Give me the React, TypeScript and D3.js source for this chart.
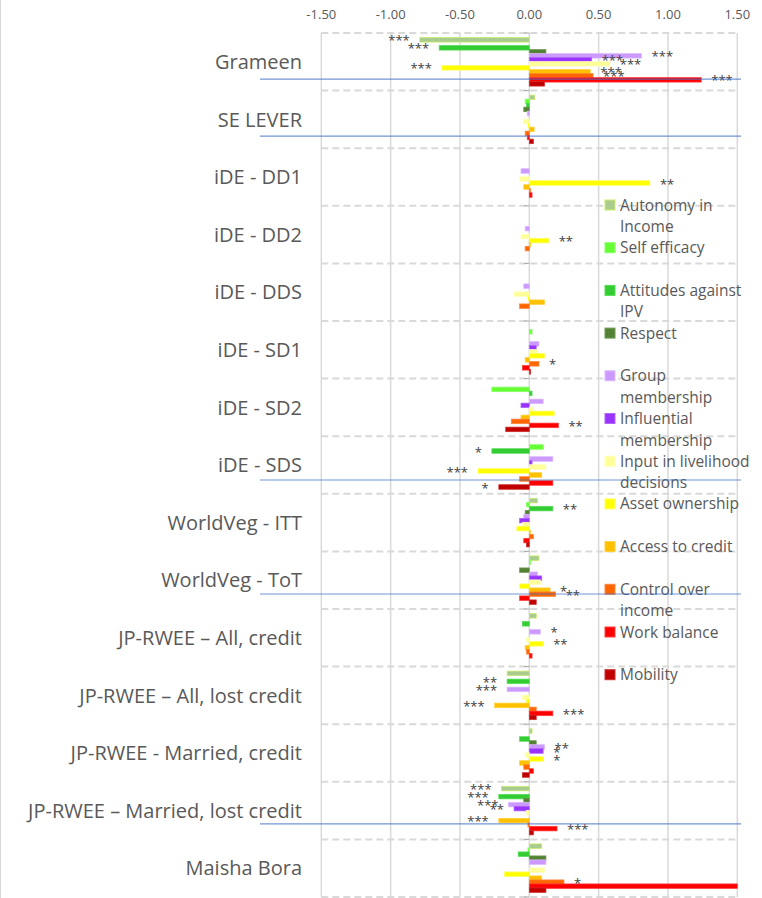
import React from "react";
import * as d3 from "d3";

const categories = [
  "Grameen",
  "SE LEVER",
  "iDE - DD1",
  "iDE - DD2",
  "iDE - DDS",
  "iDE - SD1",
  "iDE - SD2",
  "iDE - SDS",
  "WorldVeg - ITT",
  "WorldVeg - ToT",
  "JP-RWEE \u2013 All, credit",
  "JP-RWEE \u2013 All, lost credit",
  "JP-RWEE - Married, credit",
  "JP-RWEE \u2013 Married, lost credit",
  "Maisha Bora",
];

const seriesNames = [
  "Autonomy in Income",
  "Self efficacy",
  "Attitudes against IPV",
  "Respect",
  "Group membership",
  "Influential membership",
  "Input in livelihood decisions",
  "Asset ownership",
  "Access to credit",
  "Control over income",
  "Work balance",
  "Mobility",
];

const seriesColors = ["#A9CC8E", "#66FF33", "#33CC33", "#548235", "#CC99FF", "#9933FF", "#FFFF99", "#FFFF00", "#FFC000", "#FF6600", "#FF0000", "#C00000"];
const seriesStrokes = ["#CCEE66", "#88FF66", "#55DD55", "#6F9A50", "#DDBBFF", "#B066FF", "#FFFFBB", "#FFFF66", "#FFD040", "#FF8840", "#FF4040", "#D03030"];

const legendLines = [
  ["Autonomy in", "Income"],
  ["Self efficacy"],
  ["Attitudes against", "IPV"],
  ["Respect"],
  ["Group", "membership"],
  ["Influential", "membership"],
  ["Input in livelihood", "decisions"],
  ["Asset ownership"],
  ["Access to credit"],
  ["Control over", "income"],
  ["Work balance"],
  ["Mobility"],
];

// values per series, in category order
const autonomyInIncome = [-0.79, 0.04, 0, 0, 0, 0, 0, 0, 0.06, 0.07, 0.05, -0.16, 0.02, -0.2, 0.09];
const selfEfficacy = [0, -0.03, 0, 0, 0, 0.02, -0.27, 0.1, -0.02, 0.01, 0, 0, 0, 0, -0.01];
const attitudesIPV = [-0.65, -0.02, 0, 0, 0, 0, 0.02, -0.27, 0.17, 0, -0.05, -0.16, -0.07, -0.22, -0.08];
const respect = [0.12, -0.04, 0, 0, 0, 0, 0, 0, -0.03, -0.07, 0, 0, 0.05, -0.04, 0.12];
const groupMembership = [0.81, -0.015, -0.06, -0.03, -0.04, 0.07, 0.1, 0.17, -0.04, 0.06, 0.08, -0.16, 0.11, -0.15, 0.12];
const influentialMembership = [0.45, 0, 0, 0, 0, 0.05, -0.06, 0.02, -0.07, 0.09, 0, 0, 0.1, -0.11, 0];
const inputLivelihood = [0.58, -0.045, -0.07, -0.06, -0.11, 0.06, 0.03, 0.12, -0.05, 0.08, -0.02, -0.05, -0.03, -0.02, 0.11];
const assetOwnership = [-0.63, -0.01, 0.87, 0.14, -0.01, 0.11, 0.18, -0.37, -0.09, -0.07, 0.1, -0.02, 0.1, 0, -0.18];
const accessToCredit = [0.44, 0.035, -0.04, 0.01, 0.11, -0.03, -0.06, 0.09, 0.01, 0.15, -0.03, -0.25, -0.07, -0.22, 0.09];
const controlOverIncome = [0.46, -0.03, 0.01, -0.03, -0.07, 0.07, -0.13, -0.07, 0.03, 0.19, -0.02, 0.05, -0.04, -0.01, 0.25];
const workBalance = [1.24, -0.015, 0.02, 0, 0, -0.05, 0.21, 0.17, -0.04, -0.07, 0.02, 0.17, 0.03, 0.2, 1.55];
const mobility = [0.11, 0.03, 0, 0, 0, 0.01, -0.17, -0.22, -0.02, 0.05, 0, 0.05, -0.05, 0.03, 0.12];

// significance labels per series
const sigAutonomy = ["***", "", "", "", "", "", "", "", "", "", "", "", "", "***", ""];
const sigSelfEfficacy = ["", "", "", "", "", "", "", "", "", "", "", "", "", "", ""];
const sigIPV = ["***", "", "", "", "", "", "", "*", "**", "", "", "**", "", "***", ""];
const sigRespect = ["", "", "", "", "", "", "", "", "", "", "", "", "", "", ""];
const sigGroup = ["***", "", "", "", "", "", "", "", "", "", "*", "***", "**", "***", ""];
const sigInfluential = ["***", "", "", "", "", "", "", "", "", "", "", "", "*", "**", ""];
const sigInput = ["***", "", "", "", "", "", "", "", "", "", "", "", "", "", ""];
const sigAsset = ["***", "", "**", "**", "", "", "", "***", "", "", "**", "", "*", "", ""];
const sigAccess = ["***", "", "", "", "", "", "", "", "", "*", "", "***", "", "***", ""];
const sigControl = ["***", "", "", "", "", "*", "", "", "", "**", "", "", "", "", "*"];
const sigWork = ["***", "", "", "", "", "", "**", "", "", "", "", "***", "", "***", ""];
const sigMobility = ["", "", "", "", "", "", "", "*", "", "", "", "", "", "", ""];

const tickValues = [-1.5, -1, -0.5, 0, 0.5, 1, 1.5];

// highlighted rows (blue rule lines)
const highlightCats = ["Grameen", "SE LEVER", "iDE - SDS", "WorldVeg - ToT", "JP-RWEE \u2013 Married, lost credit"];
const highlightFracs = [0.8, 0.79, 0.76, 0.74, 0.73];

const seriesValues = [autonomyInIncome, selfEfficacy, attitudesIPV, respect, groupMembership, influentialMembership, inputLivelihood, assetOwnership, accessToCredit, controlOverIncome, workBalance, mobility];
const seriesSig = [sigAutonomy, sigSelfEfficacy, sigIPV, sigRespect, sigGroup, sigInfluential, sigInput, sigAsset, sigAccess, sigControl, sigWork, sigMobility];

const FONT = "'Open Sans', sans-serif";
const TEXT = "#595959";
const GRID = "#d9d9d9";

export default function App() {
  const W = 762;
  const H = 898;
  const x = d3.scaleLinear().domain([-1.5, 1.5]).range([321.3, 737.3]).clamp(true);
  const yCat = d3.scaleBand<string>().domain(categories).range([33, 897]).padding(0);
  const ySer = d3
    .scaleBand<string>()
    .domain(seriesNames)
    .range([0, yCat.bandwidth()])
    .paddingInner(0)
    .paddingOuter(1.2);
  const step = ySer.step();
  const barH = step * 1.15;
  const fmt = d3.formatLocale({ decimal: ".", thousands: ",", grouping: [3], currency: ["", ""], minus: "-" }).format(".2f");
  const x0 = x(0);

  const bars: React.ReactNode[] = [];
  const labels: React.ReactNode[] = [];
  seriesNames.forEach((s, si) => {
    categories.forEach((c, ci) => {
      const v = seriesValues[si][ci];
      const cy = (yCat(c) as number) + (ySer(s) as number) + step / 2;
      if (v !== 0) {
        const xv = x(v);
        bars.push(
          <rect
            key={`b-${si}-${ci}`}
            x={Math.min(xv, x0)}
            y={cy - barH / 2}
            width={Math.abs(xv - x0)}
            height={barH}
            fill={seriesColors[si]}
            stroke={seriesStrokes[si]}
            strokeWidth={0.7}
          />
        );
      }
      const sig = seriesSig[si][ci];
      if (sig) {
        const xv = x(v);
        labels.push(
          <text
            key={`l-${si}-${ci}`}
            x={v >= 0 ? xv + 10 : xv - 10}
            y={cy + 5.5}
            textAnchor={v >= 0 ? "start" : "end"}
            fontSize={13}
            fill="#404040"
            fontFamily={FONT}
          >
            {sig}
          </text>
        );
      }
    });
  });

  const [yTop, yBot] = yCat.range();
  const legendTop = 205;
  const rowStep = 42.7;
  const lineH = 21.5;

  return (
    <svg width={W} height={H} style={{ position: "absolute", left: 0, top: 0, background: "#fff" }} fontFamily={FONT}>
      <rect x={0} y={0} width={W} height={H} fill="#fff" />
      <line x1={0.5} x2={0.5} y1={0} y2={H} stroke={GRID} strokeWidth={1} />
      {tickValues.map((t) => (
        <line key={`g${t}`} x1={x(t)} x2={x(t)} y1={yTop} y2={yBot} stroke={GRID} strokeWidth={1.5} />
      ))}
      {[...categories.map((c) => yCat(c) as number), yBot].map((yy, i) => (
        <line key={`h${i}`} x1={x(-1.5)} x2={x(1.5)} y1={yy} y2={yy} stroke={GRID} strokeWidth={2} strokeDasharray="7,4" />
      ))}
      {[...categories.map((c) => yCat(c) as number), yBot].map((yy, i) => (
        <line key={`t${i}`} x1={x0 - 5} x2={x0} y1={yy} y2={yy} stroke="#a6a6a6" strokeWidth={1} />
      ))}
      {tickValues.map((t) => (
        <text key={`tl${t}`} x={x(t)} y={19} textAnchor="middle" fontSize={13} fill={TEXT}>
          {fmt(t)}
        </text>
      ))}
      {categories.map((c) => (
        <text key={`c${c}`} x={302} y={(yCat(c) as number) + yCat.bandwidth() / 2} dy="0.36em" textAnchor="end" fontSize={20} fill={TEXT}>
          {c}
        </text>
      ))}
      {bars}
      {labels}
      {seriesNames.map((s, i) => {
        const cy = legendTop + i * rowStep;
        return (
          <g key={`lg${s}`}>
            <rect x={605} y={cy - 5} width={10} height={10} fill={seriesColors[i]} stroke={seriesStrokes[i]} strokeWidth={1} />
            {legendLines[i].map((ln, li) => (
              <text key={li} x={620} y={cy + li * lineH} dy="0.36em" fontSize={15.5} fill={TEXT}>
                {ln}
              </text>
            ))}
          </g>
        );
      })}
      {highlightCats.map((c, i) => {
        const yy = (yCat(c) as number) + highlightFracs[i] * yCat.bandwidth();
        return <line key={`hl${i}`} x1={260} x2={741} y1={yy} y2={yy} stroke="#4472C4" strokeOpacity={0.75} strokeWidth={1.2} />;
      })}
    </svg>
  );
}
